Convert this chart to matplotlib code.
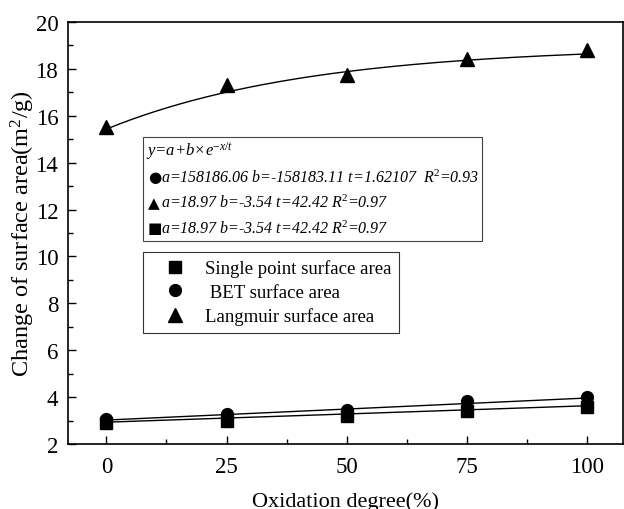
import numpy as np
import matplotlib
matplotlib.use("Agg")
import matplotlib.pyplot as plt
from matplotlib.patches import Rectangle

plt.rcParams['font.family'] = ['Liberation Serif', 'DejaVu Serif']
plt.rcParams['mathtext.fontset'] = 'custom'
plt.rcParams['mathtext.rm'] = 'Liberation Serif'
plt.rcParams['mathtext.it'] = 'Liberation Serif:italic'

# data
oxidation = [0, 25, 50, 75, 100]
single_point = [2.90, 2.97, 3.20, 3.39, 3.59]
bet = [3.07, 3.28, 3.45, 3.85, 3.99]
langmuir = [15.50, 17.30, 17.74, 18.42, 18.82]

# fitted lines
fit_x_ends = [0, 100]
single_fit_ends = [2.93, 3.63]
bet_fit_ends = [3.02, 3.96]
lang_a, lang_b, lang_t = 18.97, -3.54, 42.42

eq_header = r'y=a+b×e$^{\mathit{-x/t}}$'
eq_symbols = ['●', '▲', '■']
eq_lines = ['a=158186.06 b=-158183.11 t=1.62107  R$^{\\mathit{2}}$=0.93',
            'a=18.97 b=-3.54 t=42.42 R$^{\\mathit{2}}$=0.97',
            'a=18.97 b=-3.54 t=42.42 R$^{\\mathit{2}}$=0.97']

fig = plt.figure(figsize=(6.24, 5.10), dpi=100)
ax = fig.add_axes([0.109, 0.1275, 0.889, 0.8275])

xf = np.linspace(0, 100, 200)
ax.plot(xf, lang_a + lang_b * np.exp(-xf / lang_t), color='black', lw=1)
ax.plot(fit_x_ends, single_fit_ends, color='black', lw=1)
ax.plot(fit_x_ends, bet_fit_ends, color='black', lw=1)

h1, = ax.plot(oxidation, single_point, 's', color='black', ms=8.5, ls='none',
              label='Single point surface area')
h2, = ax.plot(oxidation, bet, 'o', color='black', ms=8.5, ls='none',
              label=' BET surface area')
h3, = ax.plot(oxidation, langmuir, '^', color='black', ms=10, ls='none',
              label='Langmuir surface area')

ax.set_xlim(-8, 107.5)
ax.set_ylim(2, 20)
ax.set_xticks([0, 25, 50, 75, 100])
ax.set_xticks([12.5, 37.5, 62.5, 87.5], minor=True)
ax.set_yticks(range(2, 21, 2))
ax.set_yticks(range(3, 20, 2), minor=True)
ax.tick_params(direction='in', which='both', labelsize=16.5, top=False, right=False)
ax.tick_params(which='major', length=6, width=1)
ax.tick_params(which='minor', length=3.5, width=1)
ax.tick_params(axis='x', pad=9)
ax.tick_params(axis='y', pad=7)
for s in ax.spines.values():
    s.set_linewidth(1.2)

ax.set_xlabel('Oxidation degree(%)', fontsize=16, labelpad=10)
ax.set_ylabel('Change of surface area(m$^2$/g)', fontsize=17.5)
ax.yaxis.set_label_coords((37 - 68) / 555, 0.5)

leg = ax.legend(handles=[h1, h2, h3], loc='upper left',
                bbox_to_anchor=((143 - 68) / 555, (445 - 253) / 422),
                borderaxespad=0, fontsize=13.5, frameon=True, fancybox=False,
                edgecolor='black', handletextpad=0.3, borderpad=0.4,
                labelspacing=0.35, handlelength=2.6)
leg.get_frame().set_linewidth(0.8)

# equation box (figure pixel positions converted to fractions)
W, H = 624.0, 510.0
fig.patches.append(Rectangle((143 / W, 1 - 242 / H), (482 - 143) / W, (242 - 138) / H,
                             transform=fig.transFigure, fill=False,
                             edgecolor='#444444', lw=0.8))
fig.text(146 / W, 1 - 151 / H, eq_header, fontsize=12,
         style='italic', va='center')
for i, (sym, line) in enumerate(zip(eq_symbols, eq_lines)):
    yy = 1 - (178 + 25.5 * i) / H
    fig.text(148 / W, yy, sym, fontsize=11, family='DejaVu Sans', va='center')
    fig.text(161 / W, yy, line, fontsize=11.5, style='italic', va='center')

fig.savefig('out.png', dpi=100)
